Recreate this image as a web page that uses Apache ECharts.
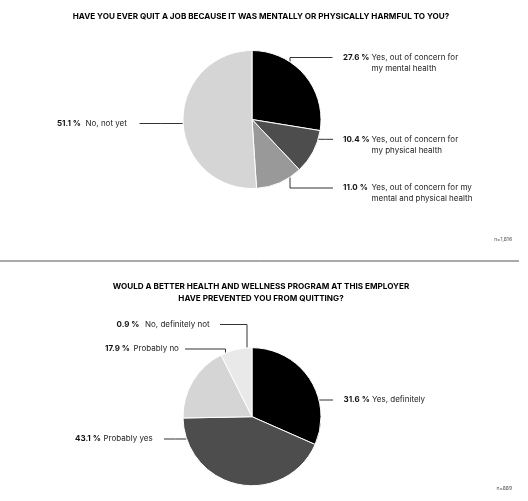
<!DOCTYPE html>
<html>
<head>
<meta charset="utf-8">
<script src="https://cdn.jsdelivr.net/npm/echarts@6/dist/echarts.min.js"></script>
<style>
  html, body { margin: 0; padding: 0; background: #fff; }
  #main { width: 528px; height: 501px; }
</style>
</head>
<body>
<div id="main"></div>
<script>
// --- data ---
var harmTitle = 'HAVE YOU EVER QUIT A JOB BECAUSE IT WAS MENTALLY OR PHYSICALLY HARMFUL TO YOU?';
var harmCats = [
    'Yes, out of concern for\nmy mental health',
    'Yes, out of concern for\nmy physical health',
    'Yes, out of concern for my\nmental and physical health',
    'No, not yet'
];
var harmValues = [27.6, 10.4, 11.0, 51.1];
var harmShown = ['27.6 %', '10.4 %', '11.0 %', '51.1 %'];
var harmN = 'n=1,816';

var prevTitle = 'WOULD A BETTER HEALTH AND WELLNESS PROGRAM AT THIS EMPLOYER\nHAVE PREVENTED YOU FROM QUITTING?';
var prevCats = ['Yes, definitely', 'Probably yes', 'Probably no', 'No, definitely not'];
// slice sizes as drawn (the last slice is drawn larger than its printed 0.9 %)
var prevValues = [31.6, 43.1, 17.9, 7.4];
var prevShown = ['31.6 %', '43.1 %', '17.9 %', '0.9 %'];
var prevN = 'n=889';

// --- styling / layout ---
var FONT = 'Inter, "Noto Sans", sans-serif';
var harmColors = ['#000000', '#4d4d4d', '#999999', '#d5d5d5'];
var prevColors = ['#000000', '#4d4d4d', '#d5d5d5', '#e9e9e9'];
var R = 69;
var harmCenter = [252, 119.5];
var prevCenter = [252, 416.7];
var LINE_H = 11;

// where each label's first line sits, and how its leader line runs back to the pie
var harmSpots = [
    { x: 343, y: 57.5, from: 332.5, elbow: 290 },
    { x: 343, y: 139.3, from: 333 },
    { x: 343, y: 188, from: 333, elbow: 290 },
    { x: 57, y: 123.5, from: 139.5 }
];
var prevSpots = [
    { x: 343.5, y: 400, from: 333 },
    { x: 75, y: 439, from: 164 },
    { x: 105, y: 349, from: 185, elbow: 225.5 },
    { x: 116.5, y: 324.5, from: 220, elbow: 247 }
];

function labelText(shown, name) {
    var lines = name.split('\n');
    var out = '{p|' + shown + '}{t|' + lines[0] + '}';
    for (var i = 1; i < lines.length; i++) {
        out += '\n{p| }{t|' + lines[i] + '}';
    }
    return out;
}

function makeLayout(spots, center) {
    return function (params) {
        var s = spots[params.dataIndex];
        var cx = center[0], cy = center[1];
        var pts;
        if (s.elbow !== undefined) {
            var dy = Math.sqrt(R * R - Math.pow(s.elbow - cx, 2));
            var ey = s.y < cy ? cy - dy : cy + dy;
            pts = [[s.elbow, ey], [s.elbow, s.y], [s.from, s.y]];
        } else {
            var dx = Math.sqrt(R * R - Math.pow(s.y - cy, 2));
            var ex = s.x > cx ? cx + dx : cx - dx;
            pts = [[ex, s.y], [(ex + s.from) / 2, s.y], [s.from, s.y]];
        }
        return {
            x: s.x,
            y: s.y - LINE_H / 2,
            align: 'left',
            verticalAlign: 'top',
            labelLinePoints: pts
        };
    };
}

function pieSeries(cats, values, shown, colors, center, spots) {
    var data = [];
    for (var i = 0; i < cats.length; i++) {
        data.push({
            name: cats[i],
            value: values[i],
            shown: shown[i],
            itemStyle: { color: colors[i] }
        });
    }
    return {
        type: 'pie',
        center: center,
        radius: R,
        startAngle: 90,
        clockwise: true,
        animation: false,
        silent: true,
        emphasis: { disabled: true },
        itemStyle: { borderColor: '#ffffff', borderWidth: 1 },
        label: {
            show: true,
            formatter: function (p) { return labelText(p.data.shown, p.name); },
            rich: {
                p: { fontFamily: FONT, fontSize: 8, fontWeight: 'bold', color: '#111', width: 28.5, lineHeight: LINE_H },
                t: { fontFamily: FONT, fontSize: 8, color: '#222', lineHeight: LINE_H }
            }
        },
        labelLine: {
            show: true,
            lineStyle: { color: '#333', width: 1 }
        },
        labelLayout: makeLayout(spots, center),
        data: data
    };
}

var myChart = echarts.init(document.getElementById('main'));

var option = {
    backgroundColor: '#ffffff',
    title: [
        {
            text: harmTitle,
            left: 256,
            top: 8,
            textAlign: 'center',
            textStyle: { fontFamily: FONT, fontSize: 8.15, fontWeight: 'bold', color: '#000' }
        },
        {
            text: prevTitle,
            left: 256,
            top: 276,
            textAlign: 'center',
            textStyle: { fontFamily: FONT, fontSize: 8.15, fontWeight: 'bold', color: '#000', lineHeight: 11.7 }
        },
        {
            text: harmN,
            right: 11,
            top: 232,
            textStyle: { fontFamily: FONT, fontSize: 5, fontWeight: 'normal', color: '#555' }
        },
        {
            text: prevN,
            right: 11,
            top: 481,
            textStyle: { fontFamily: FONT, fontSize: 5, fontWeight: 'normal', color: '#555' }
        }
    ],
    graphic: [
        {
            type: 'line',
            shape: { x1: 0, y1: 261, x2: 519, y2: 261 },
            style: { stroke: '#555', lineWidth: 1 },
            silent: true
        }
    ],
    series: [
        pieSeries(harmCats, harmValues, harmShown, harmColors, harmCenter, harmSpots),
        pieSeries(prevCats, prevValues, prevShown, prevColors, prevCenter, prevSpots)
    ]
};

myChart.setOption(option);
</script>
</body>
</html>
